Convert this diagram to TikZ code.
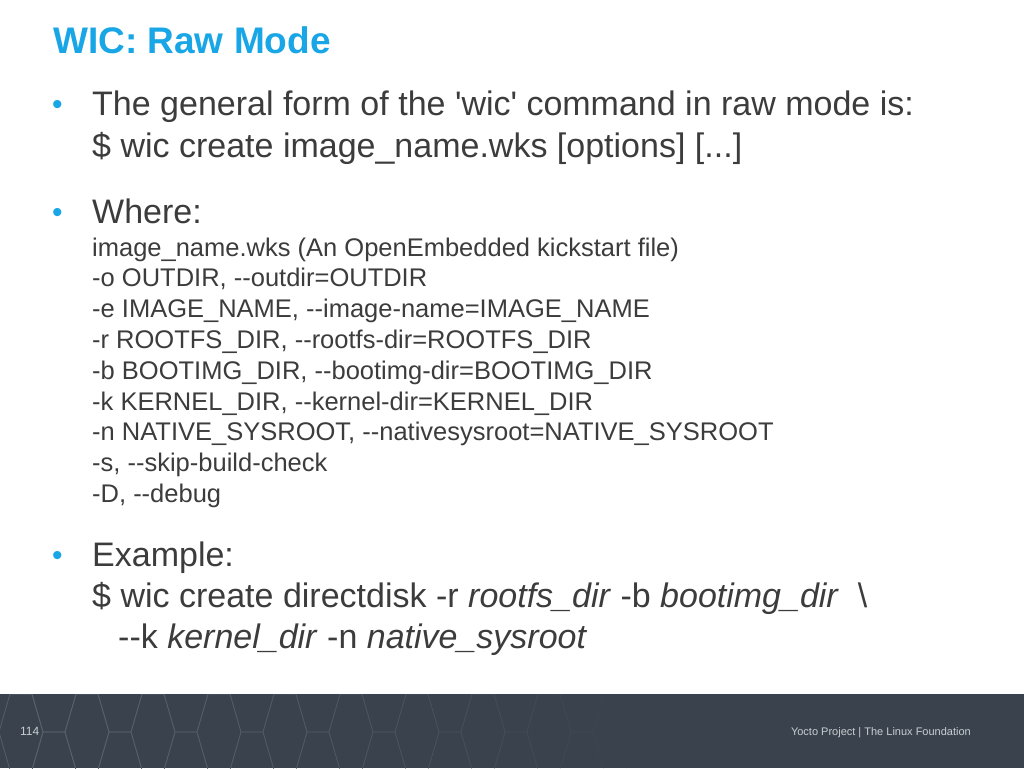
\documentclass[tikz,border=0pt]{standalone}
\usepackage{fontspec}
\setmainfont{Liberation Sans}
\definecolor{ttl}{HTML}{19A6E6}
\definecolor{txt}{HTML}{3C3C3C}
\definecolor{foot}{HTML}{3A434D}
\definecolor{hexl}{HTML}{5A646E}
\definecolor{ftxt}{HTML}{C8CDD2}
\def\dd{-\kern0pt-}
\def\q{\textquotesingle}
\begin{document}
\begin{tikzpicture}[x=1pt,y=-1pt,
  big/.style={anchor=base west,text=txt,font=\fontsize{34}{40}\selectfont,inner sep=0},
  small/.style={anchor=base west,text=txt,font=\fontsize{25.5}{30}\selectfont,inner sep=0},
  bul/.style={anchor=base west,text=ttl,font=\fontsize{30}{34}\selectfont,inner sep=0}]
\useasboundingbox (0,0) rectangle (1024,768);
\fill[white] (0,0) rectangle (1024,768);
\fill[foot] (0,694) rectangle (1024,768);
\begin{scope}
\clip (0,694) rectangle (1024,768);
\foreach \i in {0,...,19}{
  \pgfmathsetmacro\op{max(0,0.85-\i*0.045)}
  \pgfmathsetmacro\cx{21+\i*33}
  \pgfmathsetmacro\cy{mod(\i,2)==0 ? 732 : 694}
  \foreach \j in {-1,0,1}{
    \draw[hexl,line width=0.8,opacity=\op,shift={(\cx,\cy+\j*76)}]
      (22,0)--(11,38)--(-11,38)--(-22,0)--(-11,-38)--(11,-38)--cycle;
  }
}
\end{scope}
\node[anchor=base west,text=ttl,font=\bfseries\fontsize{37}{42}\selectfont,inner sep=0] (title) at (53,54) {WIC: Raw Mode};
\node[bul] (b1) at (52,114) {•};
\node[big] (l1) at (92,115) {The general form of the \q wic\q{} command in raw mode is:};
\node[big] (l2) at (92,157) {\$ wic create image\_name.wks [options] [...]};
\node[bul] (b2) at (52,222) {•};
\node[big] (l3) at (92,223) {Where:};
\foreach \t [count=\k] in {image\_name.wks (An OpenEmbedded kickstart file),
 {-o OUTDIR, \dd outdir=OUTDIR},
 {-e IMAGE\_NAME, \dd image-name=IMAGE\_NAME},
 {-r ROOTFS\_DIR, \dd rootfs-dir=ROOTFS\_DIR},
 {-b BOOTIMG\_DIR, \dd bootimg-dir=BOOTIMG\_DIR},
 {-k KERNEL\_DIR, \dd kernel-dir=KERNEL\_DIR},
 {-n NATIVE\_SYSROOT, \dd nativesysroot=NATIVE\_SYSROOT},
 {-s, \dd skip-build-check},
 {-D, \dd debug}}{
  \node[small] (s\k) at (92,{256+(\k-1)*30.8}) {\t};
}
\node[bul] (b3) at (52,565) {•};
\node[big] (l4) at (92,566) {Example:};
\node[big] (l5) at (92,607) {\$ wic create directdisk -r \textit{rootfs\_dir} -b \textit{bootimg\_dir}~~\textbackslash};
\node[big] (l6) at (118,648) {\dd k \textit{kernel\_dir} -n \textit{native\_sysroot}};
\node[anchor=base west,text=ftxt,font=\fontsize{12}{14}\selectfont,inner sep=0] (pg) at (20,735) {114};
\node[anchor=base east,text=ftxt,font=\fontsize{11}{13}\selectfont,inner sep=0] (ft) at (971,735) {Yocto Project | The Linux Foundation};
\end{tikzpicture}
\end{document}
